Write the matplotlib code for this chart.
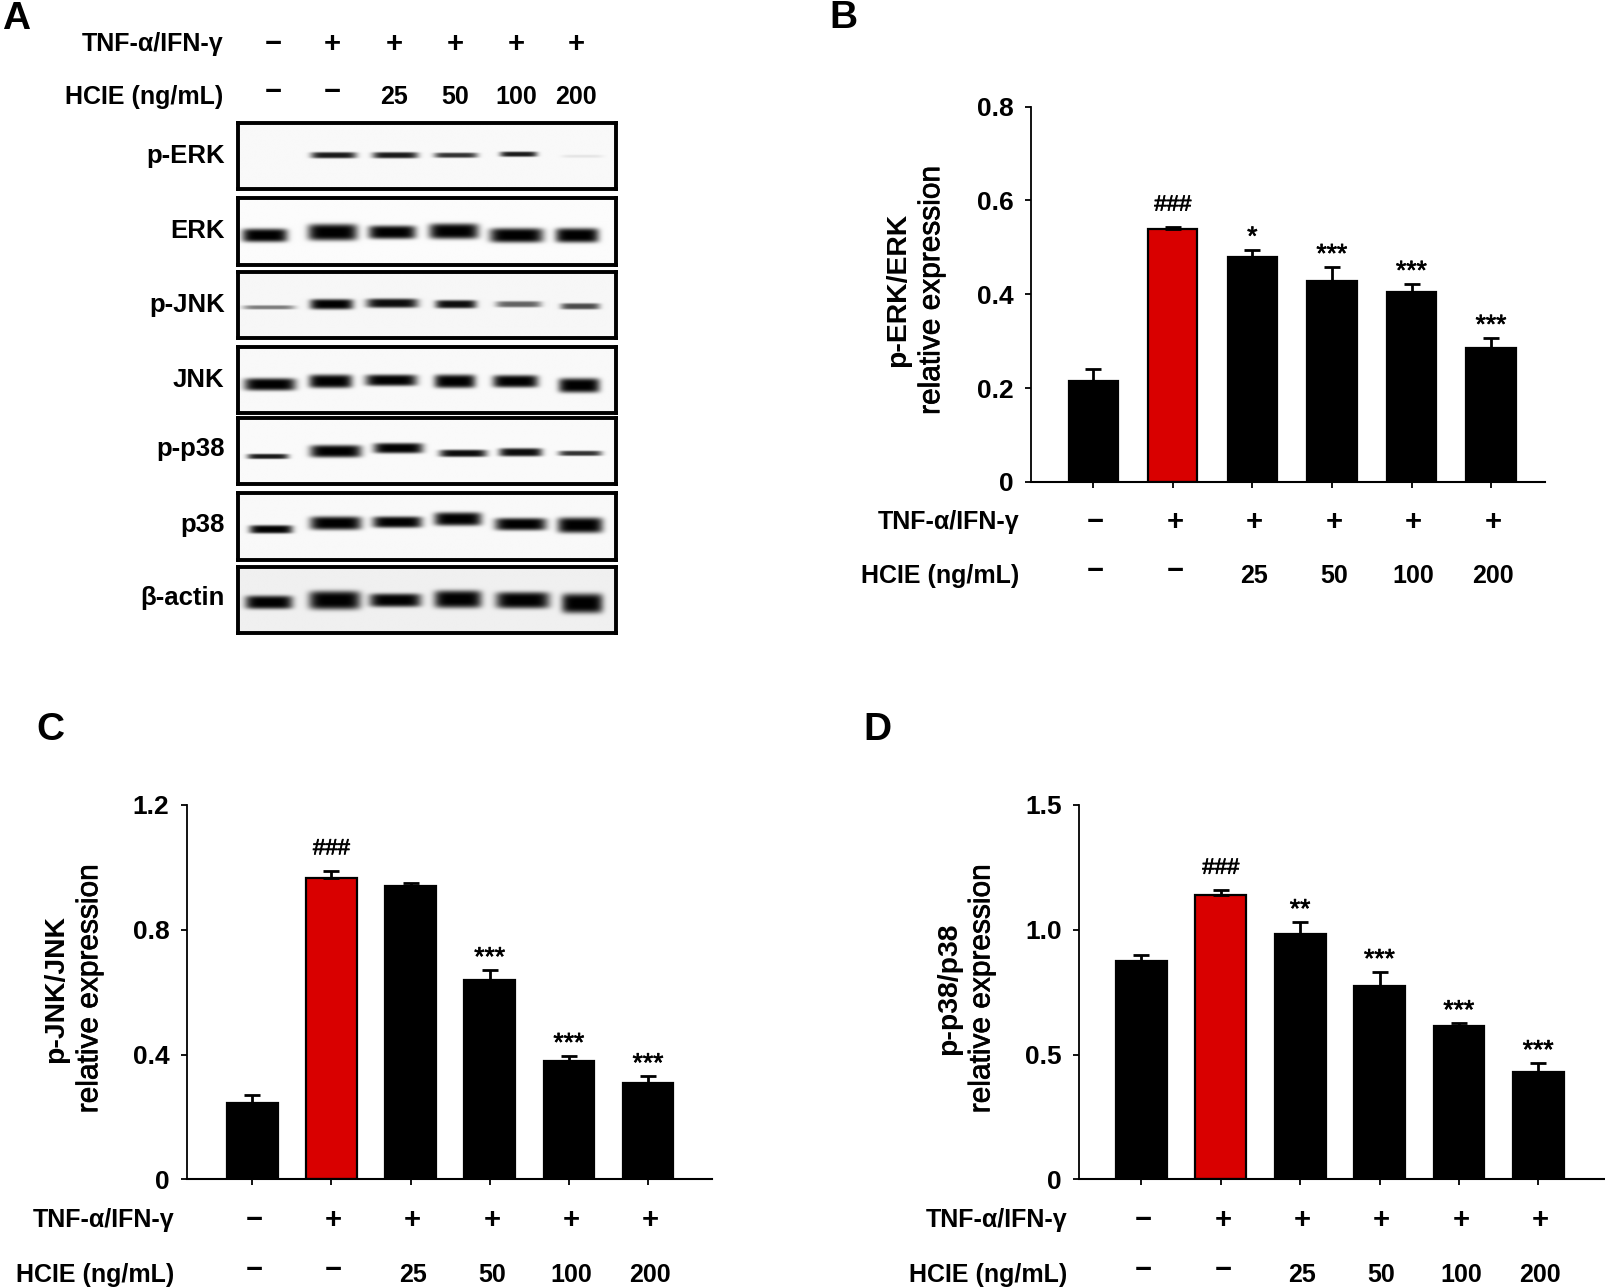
import matplotlib
matplotlib.use("Agg")
import matplotlib.pyplot as plt
import matplotlib.patheffects as pe
import numpy as np

plt.rcParams['font.family'] = ['Liberation Sans', 'DejaVu Sans']

W, H = 1566.0, 1256.0

treatment = ['−', '+', '+', '+', '+', '+']
dose = ['−', '−', '25', '50', '100', '200']

erk_vals = [0.215, 0.54, 0.48, 0.428, 0.405, 0.285]
erk_errs = [0.025, 0.004, 0.015, 0.03, 0.017, 0.022]
erk_sig = ['', '###', '*', '***', '***', '***']
erk_ticks = [0, 0.2, 0.4, 0.6, 0.8]
erk_ticklabels = ['0', '0.2', '0.4', '0.6', '0.8']

jnk_vals = [0.245, 0.965, 0.94, 0.64, 0.38, 0.31]
jnk_errs = [0.025, 0.025, 0.01, 0.03, 0.015, 0.02]
jnk_sig = ['', '###', '', '***', '***', '***']
jnk_ticks = [0, 0.4, 0.8, 1.2]
jnk_ticklabels = ['0', '0.4', '0.8', '1.2']

p38_vals = [0.875, 1.14, 0.985, 0.775, 0.615, 0.43]
p38_errs = [0.025, 0.02, 0.045, 0.055, 0.01, 0.035]
p38_sig = ['', '###', '**', '***', '***', '***']
p38_ticks = [0, 0.5, 1.0, 1.5]
p38_ticklabels = ['0', '0.5', '1.0', '1.5']

# western blot rows: name, lane centres, band centres, half widths, half heights, darkness
blot_names = ['p-ERK', 'ERK', 'p-JNK', 'JNK', 'p-p38', 'p38', 'β-actin']
blot_top = [120, 193, 265, 338, 408, 481, 553]
blot_bottom = [184, 258, 330, 403, 472, 546, 617]
blot_bg = [0.975, 0.985, 0.965, 0.975, 0.98, 0.975, 0.94]
lane_x = [
    [258, 325, 385, 444, 505, 567],
    [258, 324, 382, 442, 503, 562],
    [262, 323, 382, 444, 505, 565],
    [263, 322, 381, 443, 502, 564],
    [261, 327, 388, 451, 507, 565],
    [264, 327, 387, 446, 507, 565],
    [262, 326, 385, 446, 509, 567],
]
band_y = [
    [151, 151, 151, 151, 150, 152],
    [229, 226, 226, 225, 229, 229],
    [300, 297, 296, 297, 297, 299],
    [375, 372, 371, 372, 372, 376],
    [445, 440, 437, 442, 441, 442],
    [516, 510, 509, 506, 511, 512],
    [587, 585, 585, 584, 585, 588],
]
band_w = [
    [1, 22, 22, 21, 18, 20],
    [22, 24, 23, 24, 26, 21],
    [25, 21, 25, 20, 22, 19],
    [25, 21, 25, 20, 22, 20],
    [20, 25, 24, 23, 21, 21],
    [21, 25, 24, 23, 25, 22],
    [23, 25, 25, 23, 26, 20],
]
band_h = [
    [1, 3, 3, 2.5, 2.5, 1.5],
    [6.5, 8, 6.5, 7.5, 7, 7],
    [2, 5, 4.5, 4, 3, 3],
    [6, 6.5, 5.5, 6.5, 6, 7],
    [2.5, 6, 5, 3.5, 4, 2.5],
    [4, 6.5, 5.5, 6.5, 6, 7.5],
    [6.5, 9, 6.5, 8.5, 8, 9.5],
]
band_dark = [
    [0, 0.9, 0.9, 0.8, 0.9, 0.08],
    [1, 1, 1, 1, 1, 1],
    [0.5, 1, 0.95, 0.95, 0.6, 0.7],
    [1, 1, 1, 1, 1, 1],
    [0.9, 1, 1, 0.95, 0.95, 0.8],
    [1, 1, 1, 1, 1, 1],
    [1, 1, 1, 1, 1, 1],
]

heavy = [pe.withStroke(linewidth=0.5, foreground='black')]


def put_text(x, y, s, **kw):
    kw.setdefault('ha', 'center')
    kw.setdefault('va', 'center')
    kw.setdefault('color', 'black')
    fig.text(x / W, 1 - y / H, s, **kw)


def put_rows(xs, y1, y2, label_right):
    put_text(label_right, y1, 'TNF-α/IFN-γ', ha='right', fontsize=18, fontweight='bold')
    put_text(label_right, y2, 'HCIE (ng/mL)', ha='right', fontsize=18, fontweight='bold')
    for x, a, b in zip(xs, treatment, dose):
        put_text(x, y1, a, fontsize=21, fontweight='bold')
        if b == '−':
            put_text(x, y2 - 5, b, fontsize=21, fontweight='bold')
        else:
            put_text(x, y2, b, fontsize=18, fontweight='bold')


def bar_panel(left, right, y0, ytop, c0, step, bw, vals, errs, sig, ticks, ticklabels, name, lab_x, lab_y):
    ax = fig.add_axes([left / W, 1 - y0 / H, (right - left) / W, (y0 - ytop) / H])
    xs = np.arange(len(vals))
    colors = ['black', '#d90000', 'black', 'black', 'black', 'black']
    ax.bar(xs, vals, width=bw, color=colors, edgecolor='black', linewidth=1.6,
           yerr=[np.zeros(len(vals)), errs],
           error_kw=dict(ecolor='black', elinewidth=2, capsize=5.5, capthick=2))
    ax.set_xlim((left - c0) / step, (right - c0) / step)
    ax.set_ylim(0, ticks[-1])
    ax.set_xticks(xs)
    ax.set_xticklabels([])
    ax.set_yticks(ticks)
    ax.set_yticklabels(ticklabels, fontsize=19, fontweight='bold')
    ax.tick_params(axis='both', direction='out', length=4.5, width=1.3, pad=8)
    ax.spines['top'].set_visible(False)
    ax.spines['right'].set_visible(False)
    ax.spines['left'].set_linewidth(1.3)
    ax.spines['bottom'].set_linewidth(1.5)
    ax.patch.set_alpha(0)
    for x, v, e, s in zip(xs, vals, errs, sig):
        if s == '':
            continue
        if s == '###':
            ax.annotate(s, (x, v + e), xytext=(0, 8), textcoords='offset points',
                        ha='center', va='bottom', fontsize=16, path_effects=heavy)
        else:
            ax.annotate(s, (x, v + e), xytext=(0, 0), textcoords='offset points',
                        ha='center', va='bottom', fontsize=19, path_effects=heavy)
    put_text(lab_x, lab_y, name, rotation=90, fontsize=20.4, fontweight='bold')
    put_text(lab_x + 32, lab_y, 'relative expression', rotation=90, fontsize=21.5, path_effects=heavy)
    return c0 + xs * step + 2


def blot_panel(i):
    x0, x1 = 232, 601
    y0, y1 = blot_top[i], blot_bottom[i]
    ax = fig.add_axes([x0 / W, 1 - y1 / H, (x1 - x0) / W, (y1 - y0) / H])
    yy, xx = np.mgrid[y0:y1:0.5, x0:x1:0.5]
    img = np.full(xx.shape, blot_bg[i], dtype=float)
    for c, b, w, h, d in zip(lane_x[i], band_y[i], band_w[i], band_h[i], band_dark[i]):
        shade = d * np.exp(-((yy - b) / h) ** 4) * np.exp(-((xx - c) / w) ** 6)
        img = img * (1 - shade)
    ax.imshow(img, cmap='gray', vmin=0, vmax=1, aspect='auto', extent=[x0, x1, y1, y0],
              interpolation='bilinear')
    ax.set_xticks([])
    ax.set_yticks([])
    for sp in ax.spines.values():
        sp.set_linewidth(2.8)
    put_text(219, (y0 + y1) / 2 - 2 * (i > 3), blot_names[i], ha='right', fontsize=18.5, fontweight='bold')


fig = plt.figure(figsize=(16.06, 12.88), dpi=100)

# panel A
for i in range(len(blot_names)):
    blot_panel(i)
put_rows([266, 324, 384, 444, 503, 562], 43, 95, 218)

# panels B, C, D
xs_b = bar_panel(1005, 1507, 470, 104, 1066, 77.6, 0.62, erk_vals, erk_errs, erk_sig,
                 erk_ticks, erk_ticklabels, 'p-ERK/ERK', 876, 283)
put_rows(xs_b, 509, 562, 994)
xs_c = bar_panel(182, 694, 1150, 785, 246, 77.2, 0.64, jnk_vals, jnk_errs, jnk_sig,
                 jnk_ticks, jnk_ticklabels, 'p-JNK/JNK', 55, 964)
put_rows(xs_c, 1190, 1243, 170)
xs_d = bar_panel(1052, 1564, 1150, 785, 1113, 77.4, 0.64, p38_vals, p38_errs, p38_sig,
                 p38_ticks, p38_ticklabels, 'p-p38/p38', 925, 964)
put_rows(xs_d, 1190, 1243, 1041)

for letter, x, y in [('A', 16, 19), ('B', 822, 18), ('C', 49, 712), ('D', 856, 712)]:
    put_text(x, y, letter, fontsize=28, fontweight='bold')

fig.savefig('out.png', dpi=100)
